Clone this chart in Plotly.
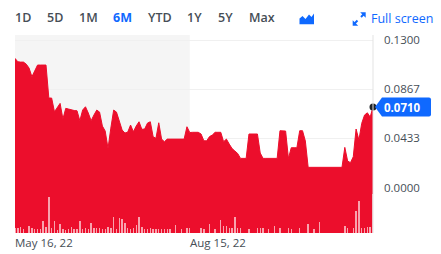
import pandas as pd
import plotly.graph_objects as go

# ---------------- data ----------------
holidays = ["2022-05-30", "2022-06-20", "2022-07-04", "2022-09-05"]
dates = [d.strftime("%Y-%m-%d") for d in pd.bdate_range("2022-05-16", "2022-11-15")
         if d.strftime("%Y-%m-%d") not in holidays]

price = [
    0.1139, 0.1109, 0.1106, 0.1106, 0.1088, 0.1053, 0.0977, 0.1036, 0.1080, 0.1080,
    0.1080, 0.1080, 0.0789, 0.0789, 0.0668, 0.0710, 0.0742, 0.0604, 0.0698, 0.0692,
    0.0683, 0.0679, 0.0677, 0.0589, 0.0683, 0.0712, 0.0657, 0.0589, 0.0639, 0.0683,
    0.0665, 0.0542, 0.0498, 0.0345, 0.0524, 0.0683, 0.0665, 0.0586, 0.0507, 0.0480,
    0.0489, 0.0551, 0.0492, 0.0542, 0.0580, 0.0513, 0.0516, 0.0568, 0.0580, 0.0448,
    0.0434, 0.0571, 0.0427, 0.0404, 0.0427, 0.0427, 0.0427, 0.0427, 0.0427, 0.0427,
    0.0427, 0.0536, 0.0485, 0.0487, 0.0487, 0.0487, 0.0472, 0.0412, 0.0412, 0.0449,
    0.0463, 0.0487, 0.0487, 0.0487, 0.0404, 0.0427, 0.0383, 0.0344, 0.0322, 0.0300,
    0.0257, 0.0257, 0.0257, 0.0472, 0.0472, 0.0472, 0.0472, 0.0304, 0.0257, 0.0257,
    0.0257, 0.0257, 0.0257, 0.0257, 0.0501, 0.0501, 0.0498, 0.0257, 0.0351, 0.0351,
    0.0351, 0.0501, 0.0501, 0.0410, 0.0178, 0.0178, 0.0178, 0.0178, 0.0178, 0.0178,
    0.0178, 0.0178, 0.0178, 0.0178, 0.0178, 0.0178, 0.0178, 0.0354, 0.0234, 0.0219,
    0.0271, 0.0516, 0.0419, 0.0566, 0.0639, 0.0659, 0.0621, 0.0710,
]

volume_m = [
    0.15, 0.15, 0.18, 0.12, 0.00, 0.22, 0.15, 0.12, 0.12, 0.12,
    0.35, 0.18, 1.07, 0.15, 0.37, 0.10, 0.27, 0.12, 0.10, 0.12,
    0.18, 0.12, 0.12, 0.35, 0.12, 0.15, 0.12, 0.30, 0.15, 0.15,
    0.15, 0.12, 0.12, 0.18, 0.15, 0.47, 0.12, 0.45, 0.42, 0.30,
    0.15, 0.12, 0.15, 0.24, 0.47, 0.18, 0.12, 0.12, 0.15, 0.12,
    0.12, 0.12, 0.12, 0.12, 0.12, 0.12, 0.00, 0.24, 0.00, 0.12,
    0.00, 0.15, 0.15, 0.00, 0.00, 0.00, 0.15, 0.12, 0.00, 0.27,
    0.00, 0.12, 0.00, 0.40, 0.21, 0.21, 0.15, 0.15, 0.47, 0.15,
    0.15, 0.00, 0.00, 0.12, 0.00, 0.00, 0.15, 0.15, 0.15, 0.00,
    0.12, 0.00, 0.20, 0.00, 0.15, 0.00, 0.00, 0.15, 0.12, 0.00,
    0.00, 0.15, 0.00, 0.00, 0.27, 0.00, 0.12, 0.00, 0.33, 0.00,
    0.00, 0.00, 0.00, 0.00, 0.00, 0.00, 0.00, 0.20, 0.15, 0.00,
    0.15, 0.67, 0.95, 0.15, 0.15, 0.18, 0.18, 1.18,
]

y_tickvals = [0.0, 0.0433, 0.0867, 0.1300]
y_ticktext = ["0.0000", "0.0433", "0.0867", "0.1300"]
x_label_dates = ["2022-05-16", "2022-08-15"]
x_label_text = ["May 16, 22", "Aug 15, 22"]
range_buttons = ["1D", "5D", "1M", "6M", "YTD", "1Y", "5Y", "Max"]
selected_button = "6M"
last_price_text = "0.0710"

# ---------------- styling ----------------
RED = "rgb(236,14,44)"
BLUE = "#0f69ff"
GRAY_TXT = "#464e56"
FONT = "Open Sans"
Y_MIN, Y_MAX = -0.0401, 0.1345

L, T, W, H = 15, 35, 358, 198
WIDTH, HEIGHT = 441, 254


def pxx(x):
    return (x - L) / W


def pxy(y):
    return (T + H - y) / H


def path(points):
    return "M" + " L".join(f"{pxx(x):.5f},{pxy(y):.5f}" for x, y in points) + " Z"


fig = go.Figure()

# baseline for filled area down to the bottom of the plot
fig.add_trace(go.Scatter(x=dates, y=[Y_MIN - 0.02] * len(dates), mode="lines",
                         line=dict(width=0, color=RED), hoverinfo="skip", showlegend=False))
fig.add_trace(go.Scatter(x=dates, y=price, mode="lines", fill="tonexty",
                         fillcolor=RED, line=dict(color=RED, width=1),
                         showlegend=False))
fig.add_trace(go.Bar(x=dates, y=volume_m, yaxis="y2", width=0.5,
                     marker=dict(color="rgba(255,255,255,0.62)", line=dict(width=0)),
                     showlegend=False))
fig.add_trace(go.Scatter(x=[dates[-1]], y=[price[-1]], mode="markers",
                         marker=dict(color="#1d2125", size=7), cliponaxis=False,
                         showlegend=False))

shapes = []
# shaded previous-period region
shapes.append(dict(type="rect", xref="x", yref="paper", x0=0, x1=dates.index(x_label_dates[1]),
                   y0=0, y1=1, fillcolor="#f5f5f5", line=dict(width=0), layer="below"))
# right border line
shapes.append(dict(type="line", xref="paper", yref="paper", x0=1, x1=1, y0=0, y1=1,
                   line=dict(color="#e3e3e3", width=1), layer="above"))
# last-price tag
shapes.append(dict(type="path", xref="paper", yref="y", xsizemode="pixel", ysizemode="pixel",
                   xanchor=1, yanchor=price[-1],
                   path="M2,0 L9,9.5 L56,9.5 Q58,9.5 58,7.5 L58,-7.5 Q58,-9.5 56,-9.5 L9,-9.5 Z",
                   fillcolor=BLUE, line=dict(width=0), layer="above"))
# chart-type icon
shapes.append(dict(type="path", xref="paper", yref="paper",
                   path=path([(299.5, 24.3), (299.5, 18.5), (302.5, 16.0), (305.5, 19.0),
                              (309.0, 14.5), (311.5, 17.0), (314.0, 13.5), (314.0, 24.3)]),
                   fillcolor=BLUE, line=dict(width=0), layer="above"))
# full-screen icon: two arrows
shapes.append(dict(type="line", xref="paper", yref="paper",
                   x0=pxx(357.5), y0=pxy(20.5), x1=pxx(354.5), y1=pxy(23.5),
                   line=dict(color=BLUE, width=2), layer="above"))
shapes.append(dict(type="line", xref="paper", yref="paper",
                   x0=pxx(361.0), y0=pxy(17.0), x1=pxx(364.0), y1=pxy(14.0),
                   line=dict(color=BLUE, width=2), layer="above"))
shapes.append(dict(type="path", xref="paper", yref="paper",
                   path=path([(352.7, 25.7), (358.2, 25.7), (352.7, 20.2)]),
                   fillcolor=BLUE, line=dict(width=0), layer="above"))
shapes.append(dict(type="path", xref="paper", yref="paper",
                   path=path([(365.7, 12.3), (360.2, 12.3), (365.7, 17.8)]),
                   fillcolor=BLUE, line=dict(width=0), layer="above"))

annotations = []
btn_x = [15, 46.7, 79, 113.3, 147.7, 187.3, 218.3, 248.7]
for lab, bx in zip(range_buttons, btn_x):
    sel = lab == selected_button
    annotations.append(dict(text=lab, xref="paper", yref="paper", x=pxx(bx), y=pxy(17.5),
                            xanchor="left", yanchor="middle", xshift=-2, showarrow=False,
                            font=dict(family=FONT, size=12.5, color=BLUE if sel else GRAY_TXT,
                                      weight=700 if sel else 600)))
annotations.append(dict(text="Full screen", xref="paper", yref="paper", x=pxx(370.7), y=pxy(18),
                        xanchor="left", yanchor="middle", xshift=-2, showarrow=False,
                        font=dict(family=FONT, size=12.5, color=BLUE)))
for d, t in zip(x_label_dates, x_label_text):
    annotations.append(dict(text=t, xref="x", yref="paper", x=d, y=pxy(242.5),
                            xanchor="left", yanchor="middle", xshift=-2, showarrow=False,
                            font=dict(family=FONT, size=11.5, color=GRAY_TXT)))
annotations.append(dict(text=f"<b>{last_price_text}</b>", xref="paper", yref="y", x=1,
                        y=price[-1], xanchor="left", yanchor="middle", xshift=9,
                        showarrow=False, font=dict(family=FONT, size=11.5, color="white")))

fig.update_layout(
    width=WIDTH, height=HEIGHT,
    margin=dict(l=L, r=WIDTH - L - W, t=T, b=HEIGHT - T - H, pad=0),
    paper_bgcolor="white", plot_bgcolor="white",
    showlegend=False, bargap=0,
    font=dict(family=FONT, color=GRAY_TXT),
    xaxis=dict(type="category", range=[0, len(dates) - 1], showgrid=False, zeroline=False,
               showticklabels=False, showline=False, ticks=""),
    yaxis=dict(side="right", range=[Y_MIN, Y_MAX], tickvals=y_tickvals, ticktext=y_ticktext,
               showgrid=True, gridcolor="#f0f0f0", gridwidth=1, zeroline=False, showline=False,
               ticks="", ticklabelstandoff=10,
               tickfont=dict(family=FONT, size=11.5, color=GRAY_TXT)),
    yaxis2=dict(overlaying="y", range=[0, 5.94], visible=False),
    shapes=shapes,
    annotations=annotations,
)

fig.write_html("out.html")
